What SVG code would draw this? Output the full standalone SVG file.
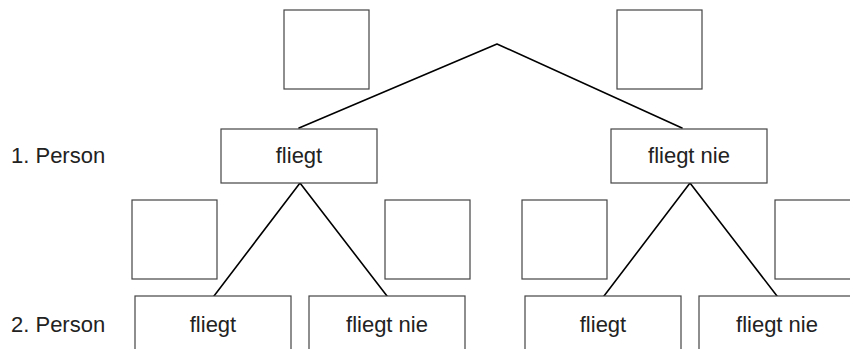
<svg xmlns="http://www.w3.org/2000/svg" width="850" height="349" viewBox="0 0 850 349">
  <style>
    .box { fill: #ffffff; stroke: #444444; stroke-width: 1.2; }
    .blank { fill: #ffffff; stroke: #444444; stroke-width: 1.2; }
    .edge { fill: none; stroke: #000000; stroke-width: 1.6; stroke-linecap: round; stroke-linejoin: round; }
    .lbl { font-family: "Liberation Sans", Arial, sans-serif; font-size: 22px; fill: #222222; text-anchor: middle; }
    .row { font-family: "Liberation Sans", Arial, sans-serif; font-size: 22px; fill: #222222; }
  </style>

  <rect width="850" height="349" fill="#ffffff"/>

  <!-- connectors -->
  <g id="connectors">
    <polyline class="edge" points="299,128 497,44 682,128"/>
    <polyline class="edge" points="214,296 300,183 387,296"/>
    <polyline class="edge" points="604,296 690,183 777,296"/>
  </g>

  <!-- empty answer squares -->
  <g id="blank-top-left"><rect class="blank" x="284" y="10" width="85" height="79"/></g>
  <g id="blank-top-right"><rect class="blank" x="617" y="10" width="85" height="79"/></g>
  <g id="blank-mid-1"><rect class="blank" x="132" y="200" width="85" height="79"/></g>
  <g id="blank-mid-2"><rect class="blank" x="385" y="200" width="85" height="79"/></g>
  <g id="blank-mid-3"><rect class="blank" x="522" y="200" width="85" height="79"/></g>
  <g id="blank-mid-4"><rect class="blank" x="775" y="200" width="85" height="79"/></g>

  <!-- row captions -->
  <g id="caption-1"><text class="row" x="11" y="163">1. Person</text></g>
  <g id="caption-2"><text class="row" x="11" y="332">2. Person</text></g>

  <!-- first level -->
  <g id="node-fliegt">
    <rect class="box" x="221" y="129" width="156" height="54"/>
    <text class="lbl" x="299" y="163">fliegt</text>
  </g>
  <g id="node-fliegt-nie">
    <rect class="box" x="611" y="129" width="156" height="54"/>
    <text class="lbl" x="689" y="163">fliegt nie</text>
  </g>

  <!-- second level -->
  <g id="node-ff">
    <rect class="box" x="135" y="296" width="156" height="60"/>
    <text class="lbl" x="213" y="332">fliegt</text>
  </g>
  <g id="node-fn">
    <rect class="box" x="309" y="296" width="156" height="60"/>
    <text class="lbl" x="387" y="332">fliegt nie</text>
  </g>
  <g id="node-nf">
    <rect class="box" x="525" y="296" width="156" height="60"/>
    <text class="lbl" x="603" y="332">fliegt</text>
  </g>
  <g id="node-nn">
    <rect class="box" x="699" y="296" width="156" height="60"/>
    <text class="lbl" x="777" y="332">fliegt nie</text>
  </g>
</svg>
